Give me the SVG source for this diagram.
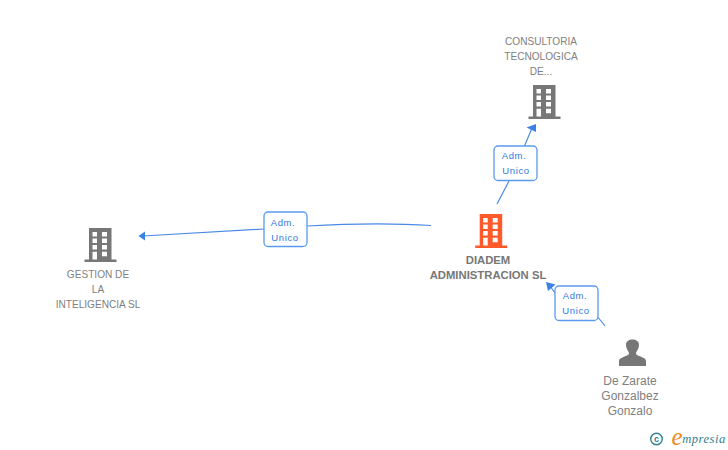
<svg xmlns="http://www.w3.org/2000/svg" width="728" height="450" viewBox="0 0 728 450">
<style>
text{font-family:"Liberation Sans",Arial,sans-serif;text-anchor:middle}
.n{font-size:10.100px;fill:#808080}
.p{font-size:12px;fill:#808080}
.b{font-size:11.300px;fill:#777;font-weight:bold}
.l{font-size:9.500px;fill:#2f78e4;letter-spacing:.6px}
.c{fill:none;stroke:#4a8ae6;stroke-width:1.200}
.a{fill:#3a82e6}
.box{fill:#fff;stroke:#5b9bec;stroke-width:1.300}
</style>
<defs>
<symbol id="bld" width="32" height="34" viewBox="0 0 32 34" overflow="visible">
<path fill-rule="evenodd" d="M4.500 0H27V31.500H32V34H0V31.500H4.500ZM8 4V8.500H12.500V4ZM17.500 4V8.500H22.500V4ZM8 10.500V15H12.500V10.500ZM17.500 10.500V15H22.500V10.500ZM8 17V21.500H12.500V17ZM17.500 17V21.500H22.500V17ZM8 23.700V31.500H12.500V23.700ZM17.500 23.700V28.300H22.500V23.700Z"/>
</symbol>
</defs>
<g id="connectors">
<path class="c" d="M497 204L509 181M524.500 146L532 128"/>
<path class="a" d="M536 124L526.500 127.500L536 132Z"/>
<path class="c" d="M264 229L143 236"/>
<path class="a" d="M138.500 236L145 231.500L145 240.500Z"/>
<path class="c" d="M307 226C350 223.500 395 223 431 225.500"/>
<path class="c" d="M605 326L597 316M555 293L550 286"/>
<path class="a" d="M546 282L555.500 284.500L548 291Z"/>
</g>
<g id="node-consultoria">
<text class="n" x="541" y="45">CONSULTORIA</text>
<text class="n" x="541" y="60">TECNOLOGICA</text>
<text class="n" x="541" y="75">DE...</text>
<use href="#bld" x="528.500" y="85" width="32" height="34" fill="#777"/>
</g>
<g id="node-diadem">
<use href="#bld" x="475.200" y="214" width="32" height="34" fill="#ff5a2c"/>
<text class="b" x="488" y="264">DIADEM</text>
<text class="b" x="488" y="279">ADMINISTRACION SL</text>
</g>
<g id="node-gestion">
<use href="#bld" x="84.500" y="228" width="32" height="34" fill="#777"/>
<text class="n" x="98" y="278">GESTION DE</text>
<text class="n" x="98" y="293">LA</text>
<text class="n" x="98" y="308">INTELIGENCIA SL</text>
</g>
<g id="node-dezarate">
<path fill="#777" d="M619 366V361C619 358 624 357 628 355C629.500 354.500 629 352 628 351C626.500 349 626 346 626 344.500C626 341.500 629 339.500 632.500 339.500C636 339.500 639 341.500 639 344.500C639 346 638.500 349 637 351C636 352 635.500 354.500 637 355C641 357 646 358 646 361V366Z"/>
<text class="p" x="630" y="385">De Zarate</text>
<text class="p" x="630" y="400">Gonzalbez</text>
<text class="p" x="630" y="415">Gonzalo</text>
</g>
<g id="label-1">
<rect class="box" x="494" y="146" width="43" height="34.500" rx="4"/>
<text class="l" x="514" y="159">Adm.</text>
<text class="l" x="516" y="174">Unico</text>
</g>
<g id="label-2">
<rect class="box" x="264" y="212" width="43" height="34.500" rx="4"/>
<text class="l" x="283" y="226">Adm.</text>
<text class="l" x="285" y="241">Unico</text>
</g>
<g id="label-3">
<rect class="box" x="555" y="286" width="43" height="34.500" rx="4"/>
<text class="l" x="575" y="299">Adm.</text>
<text class="l" x="576" y="314">Unico</text>
</g>
<g id="watermark">
<circle cx="656.500" cy="439" r="5.800" fill="none" stroke="#2f7f8f" stroke-width="1.400"/>
<text x="656.500" y="442" style="font-size:9px;font-weight:bold;fill:#2f7f8f">c</text>
<text x="677" y="445" style="font-size:25px;fill:#f08a1d;font-family:'Liberation Serif',serif;font-style:italic">e</text>
<text x="704" y="443" style="font-size:12.500px;fill:#2f7f8f;font-family:'Liberation Serif',serif;font-style:italic;letter-spacing:.5px">mpresia</text>
</g>
</svg>
